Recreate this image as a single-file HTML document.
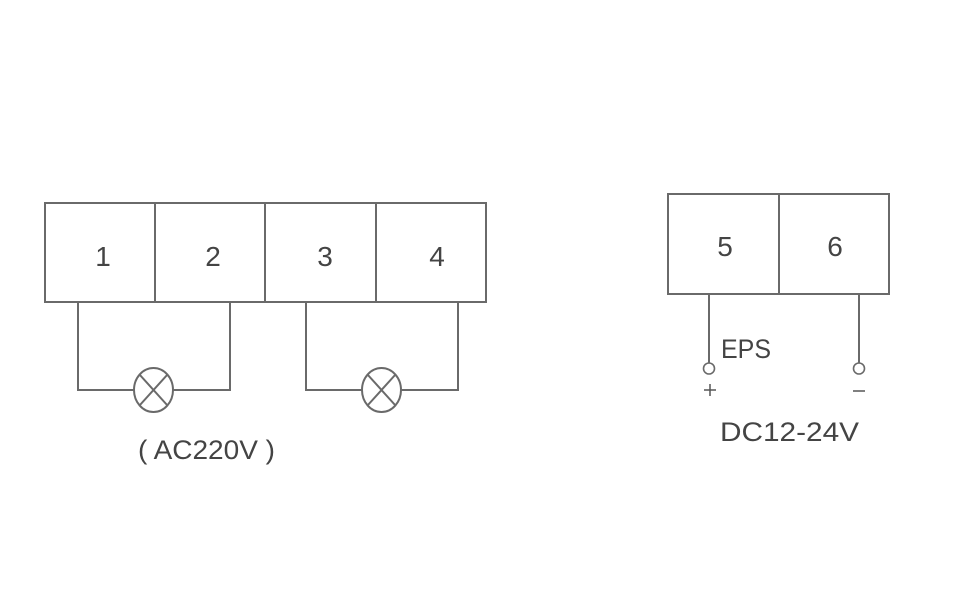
<!DOCTYPE html>
<html><head><meta charset="utf-8"><style>html,body{margin:0;padding:0;background:#fff}svg{display:block}</style></head>
<body>
<svg width="970" height="600" viewBox="0 0 970 600" xmlns="http://www.w3.org/2000/svg" font-family="Liberation Sans, sans-serif" fill="none" stroke="#6a6a6a" stroke-width="2">
<rect x="45" y="203" width="441" height="99"/>
<line x1="155" y1="203" x2="155" y2="302"/>
<line x1="265" y1="203" x2="265" y2="302"/>
<line x1="376" y1="203" x2="376" y2="302"/>
<polyline points="78,302 78,390 134,390"/>
<polyline points="173,390 230,390 230,302"/>
<ellipse cx="153.5" cy="390" rx="19.5" ry="22"/>
<line x1="139.5" y1="374.5" x2="167.5" y2="405.5"/>
<line x1="167.5" y1="374.5" x2="139.5" y2="405.5"/>
<polyline points="306,302 306,390 362,390"/>
<polyline points="401,390 458,390 458,302"/>
<ellipse cx="381.5" cy="390" rx="19.5" ry="22"/>
<line x1="367.5" y1="374.5" x2="395.5" y2="405.5"/>
<line x1="395.5" y1="374.5" x2="367.5" y2="405.5"/>
<rect x="668" y="194" width="221" height="100"/>
<line x1="779" y1="194" x2="779" y2="294"/>
<line x1="709" y1="294" x2="709" y2="363"/>
<line x1="859" y1="294" x2="859" y2="363"/>
<circle cx="709" cy="368.5" r="5.5" stroke-width="1.6"/>
<circle cx="859" cy="368.5" r="5.5" stroke-width="1.6"/>
<g fill="#444" stroke="none" font-size="28" text-anchor="middle">
<text x="103" y="266">1</text>
<text x="213" y="266">2</text>
<text x="325" y="266">3</text>
<text x="437" y="266">4</text>
<text x="725" y="256">5</text>
<text x="835" y="256">6</text>
</g>
<g fill="#444" stroke="none" font-size="27">
<text x="138" y="459" textLength="137" lengthAdjust="spacingAndGlyphs">( AC220V )</text>
<text x="721" y="358" textLength="50" lengthAdjust="spacingAndGlyphs">EPS</text>
<text x="720" y="441" textLength="139" lengthAdjust="spacingAndGlyphs">DC12-24V</text>
</g>
<g stroke="#555" stroke-width="1.5">
<line x1="704" y1="390" x2="716" y2="390"/>
<line x1="710" y1="384" x2="710" y2="396"/>
<line x1="853" y1="391" x2="865" y2="391"/>
</g>
</svg>
</body></html>
